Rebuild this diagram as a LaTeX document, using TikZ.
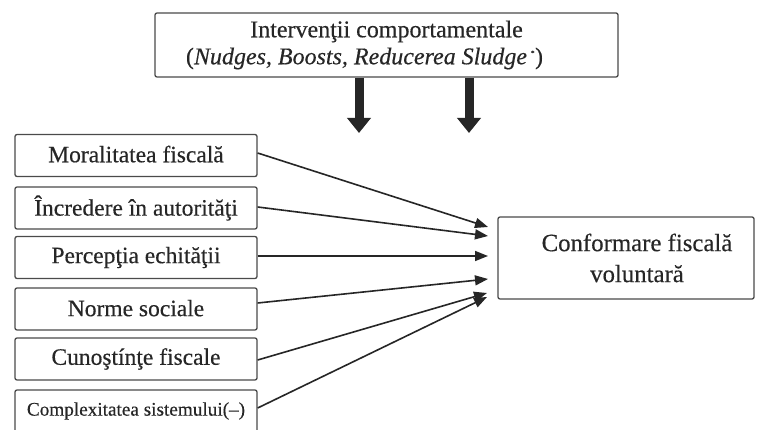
\documentclass[tikz,border=0pt]{standalone}
\usepackage{fontspec}
\setmainfont{Liberation Serif}[FakeBold=0.35]
\usetikzlibrary{arrows.meta,calc}
\definecolor{ink}{HTML}{262626}
\definecolor{edge}{HTML}{4A4A4A}
\tikzset{
  box/.style={draw=edge, line width=1.3pt, rounded corners=2pt, fill=white, text=ink,
    inner sep=0pt, align=center},
  lbox/.style={box, minimum width=242pt, minimum height=42pt, font=\fontsize{23.5}{27}\selectfont},
  conn/.style={draw=ink, line width=1.6pt, -{Triangle[length=13pt,width=10pt]}},
  bigarrow/.style={draw=ink, line width=9pt, -{Triangle[length=15pt,width=23pt]}},
}
\begin{document}
\begin{tikzpicture}[x=1pt,y=-1pt]
\useasboundingbox[fill=white] (0,0) rectangle (760,430);
\begin{scope}
\clip (0,0) rectangle (760,430);
% top box
\node[box, minimum width=463pt, minimum height=64pt, font=\fontsize{24}{28}\selectfont]
  (top) at (386.5,45) {Intervenţii comportamentale\\[-1pt]\hspace*{-44pt}(\textit{Nudges, Boosts, Reducerea Sludge}\,\textsuperscript{\scriptsize *})};
% left boxes
\node[lbox] (m1) at (136,155.5) {\raisebox{3pt}{Moralitatea fiscală}};
\node[lbox] (m2) at (136,208) {\raisebox{1pt}{Încredere în autorităţi}};
\node[lbox] (m3) at (136,257.5) {\raisebox{1pt}{Percepţia echităţii}};
\node[lbox] (m4) at (136,309) {\raisebox{2pt}{Norme sociale}};
\node[lbox] (m5) at (136,359) {\raisebox{1pt}{Cunoştínţe fiscale}};
\node[lbox, font=\fontsize{19.2}{24}\selectfont] (m6) at (136,411) {\raisebox{4pt}{Complexitatea sistemului(–)}};
% right box
\node[box, minimum width=256pt, minimum height=82pt, font=\fontsize{24.8}{31}\selectfont]
  (r) at (626,258) {\hspace*{22pt}Conformare fiscală\\\hspace*{22pt}voluntară};
% arrow targets
\coordinate (t1) at (488,227);
\coordinate (t2) at (488,236);
\coordinate (t3) at (488,256);
\coordinate (t4) at (488,279);
\coordinate (t5) at (487,293);
\coordinate (t6) at (487,297);
\draw[conn] ($(m1.east)+(0,-2.5)$) -- (t1);
\draw[conn] ($(m2.east)+(0,-1)$) -- (t2);
\draw[conn] ($(m3.east)+(0,-1.5)$) -- (t3);
\draw[conn] ($(m4.east)+(0,-6)$) -- (t4);
\draw[conn] ($(m5.east)+(0,1)$) -- (t5);
\draw[conn] ($(m6.east)+(0,-3)$) -- (t6);
% thick arrows
\coordinate (d1) at (359,133);
\coordinate (d2) at (469,133);
\draw[bigarrow] (top.south -| d1) -- (d1);
\draw[bigarrow] (top.south -| d2) -- (d2);
\end{scope}
\end{tikzpicture}
\end{document}
